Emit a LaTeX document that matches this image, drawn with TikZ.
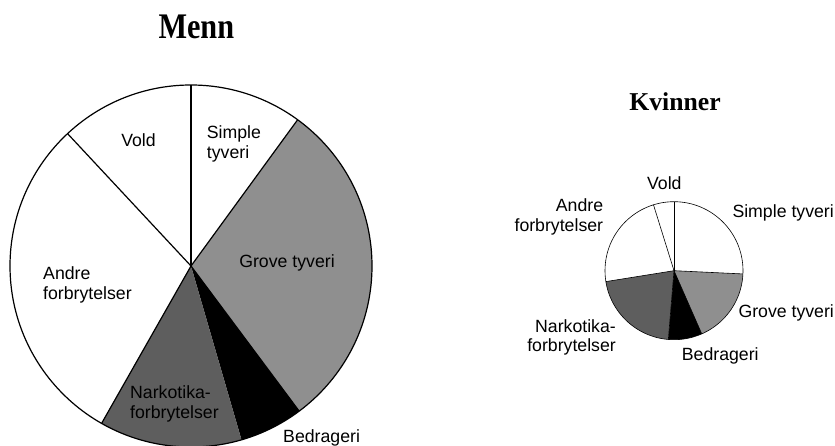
\documentclass[tikz,border=0pt]{standalone}
\usepackage{fontspec}
\setmainfont{Liberation Sans}
\newfontfamily\titlefont{Liberation Serif}
\definecolor{grovegray}{gray}{0.56}
\definecolor{narkogray}{gray}{0.37}
\begin{document}
\begin{tikzpicture}[x=1pt,y=1pt,
  lbl/.style={inner sep=0pt, font=\fontsize{17.7}{19.5}\selectfont},
  ttl/.style={inner sep=0pt},
  bigline/.style={line width=1.2pt},
  smallline/.style={line width=0.6pt}]
\useasboundingbox (0,0) rectangle (835,446);
% ---------- Left pie (Menn) ----------
\coordinate (L) at (191,180);
\def\R{181}
\fill[grovegray] (L) -- ++(-53.3:\R) arc[start angle=-53.3, end angle=53.9, radius=\R] -- cycle;
\fill[black] (L) -- ++(286.2:\R) arc[start angle=286.2, end angle=306.7, radius=\R] -- cycle;
\fill[narkogray] (L) -- ++(240.4:\R) arc[start angle=240.4, end angle=286.2, radius=\R] -- cycle;
\draw[bigline] (L) circle[radius=\R];
\draw[bigline] (L) -- ++(90:\R);
\draw[bigline] (L) -- ++(133:\R);
\draw[bigline] (L) -- ++(240.4:\R);
\draw[bigline] (L) -- ++(53.9:\R);
\draw[bigline] (L) -- ++(-53.3:\R);
\node[ttl] (menn) at (196.3,419) {\titlefont\bfseries\fontsize{36}{38}\selectfont\scalebox{0.84}[1]{Menn}};
\node[lbl] (lvold) at (138.5,306) {Vold};
\node[lbl, anchor=west, align=left] (lsimple) at (206.7,302) {Simple\\tyveri};
\node[lbl] (lgrove) at (287,183) {Grove tyveri};
\node[lbl, anchor=west, align=left] (landre) at (43,161) {Andre\\forbrytelser};
\node[lbl, anchor=west, align=left] (lnarko) at (130,42) {Narkotika-\\forbrytelser};
\node[lbl, anchor=base west] (lbedr) at (283,3) {Bedrageri};
% ---------- Right pie (Kvinner) ----------
\coordinate (K) at (674,175.3);
\def\r{69}
\fill[grovegray] (K) -- ++(293.7:\r) arc[start angle=293.7, end angle=357.3, radius=\r] -- cycle;
\fill[black] (K) -- ++(265.3:\r) arc[start angle=265.3, end angle=293.7, radius=\r] -- cycle;
\fill[narkogray] (K) -- ++(189.1:\r) arc[start angle=189.1, end angle=265.3, radius=\r] -- cycle;
\draw[smallline] (K) circle[radius=\r];
\draw[smallline] (K) -- ++(90:\r);
\draw[smallline] (K) -- ++(107.3:\r);
\draw[smallline] (K) -- ++(189.1:\r);
\draw[smallline] (K) -- ++(265.3:\r);
\draw[smallline] (K) -- ++(293.7:\r);
\draw[smallline] (K) -- ++(357.3:\r);
\node[ttl] (kvinner) at (675,344) {\titlefont\bfseries\fontsize{25.7}{28}\selectfont Kvinner};
\node[lbl] (rvold) at (664.3,263.3) {Vold};
\node[lbl, anchor=east, align=right] (randre) at (603.3,229.2) {Andre\\forbrytelser};
\node[lbl, anchor=west] (rsimple) at (732.3,232.7) {Simple tyveri};
\node[lbl, anchor=west] (rgrove) at (738.3,132.7) {Grove tyveri};
\node[lbl, anchor=east, align=right] (rnarko) at (616,108.8) {Narkotika-\\forbrytelser};
\node[lbl, anchor=west] (rbedr) at (681.7,90) {Bedrageri};
\end{tikzpicture}
\end{document}
